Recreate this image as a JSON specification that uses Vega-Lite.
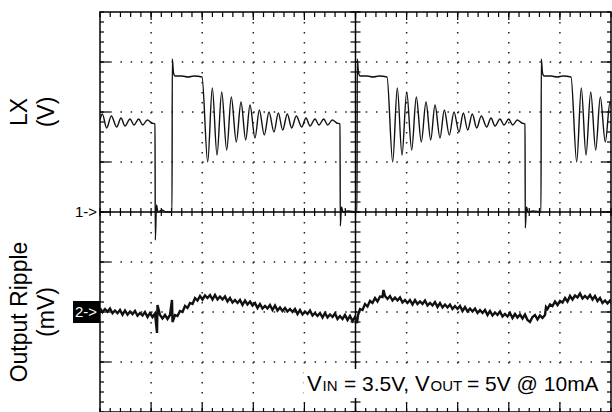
{
"$schema": "https://vega.github.io/schema/vega-lite/v6.json",
"width": 511,
"height": 400,
"autosize": {"type": "none"},
"padding": {"left": 100, "top": 12, "right": 1, "bottom": 0},
"background": "white",
"config": {"view": {"stroke": "black", "strokeWidth": 1.5}, "axis": {"disable": true}},
"datasets": {
"xgrid": [{"t":51.1},{"t":102.2},{"t":153.3},{"t":204.4},{"t":306.6},{"t":357.7},{"t":408.8},{"t":459.9}],
"xmaj": [{"t":51.1},{"t":102.2},{"t":153.3},{"t":204.4},{"t":255.5},{"t":306.6},{"t":357.7},{"t":408.8},{"t":459.9}],
"xminor": [{"t":0},{"t":10.22},{"t":20.44},{"t":30.66},{"t":40.88},{"t":51.1},{"t":61.32},{"t":71.54},{"t":81.76},{"t":91.98},{"t":102.2},{"t":112.42},{"t":122.64},{"t":132.86},{"t":143.08},{"t":153.3},{"t":163.52},{"t":173.74},{"t":183.96},{"t":194.18},{"t":204.4},{"t":214.62},{"t":224.84},{"t":235.06},{"t":245.28},{"t":255.5},{"t":265.72},{"t":275.94},{"t":286.16},{"t":296.38},{"t":306.6},{"t":316.82},{"t":327.04},{"t":337.26},{"t":347.48},{"t":357.7},{"t":367.92},{"t":378.14},{"t":388.36},{"t":398.58},{"t":408.8},{"t":419.02},{"t":429.24},{"t":439.46},{"t":449.68},{"t":459.9},{"t":470.12},{"t":480.34},{"t":490.56},{"t":500.78},{"t":511}],
"ygrid": [{"v":150},{"v":100},{"v":50},{"v":-50},{"v":-100},{"v":-150}],
"ymaj": [{"v":150},{"v":100},{"v":50},{"v":0},{"v":-50},{"v":-100},{"v":-150}],
"yminor": [{"v":-200},{"v":-190},{"v":-180},{"v":-170},{"v":-160},{"v":-150},{"v":-140},{"v":-130},{"v":-120},{"v":-110},{"v":-100},{"v":-90},{"v":-80},{"v":-70},{"v":-60},{"v":-50},{"v":-40},{"v":-30},{"v":-20},{"v":-10},{"v":0},{"v":10},{"v":20},{"v":30},{"v":40},{"v":50},{"v":60},{"v":70},{"v":80},{"v":90},{"v":100},{"v":110},{"v":120},{"v":130},{"v":140},{"v":150},{"v":160},{"v":170},{"v":180},{"v":190},{"v":200}],
"ch1": [
{"t":0,"v":92},{"t":2.3,"v":98},{"t":6.7,"v":84},{"t":11.3,"v":96},{"t":16.7,"v":85},{"t":21,"v":94},{"t":25,"v":86},{"t":30,"v":93},{"t":34,"v":87},{"t":38.7,"v":93},{"t":42.7,"v":87},{"t":47.3,"v":92},{"t":51.7,"v":89},{"t":55,"v":88},{"t":55.3,"v":-28},{"t":56.5,"v":7},{"t":58,"v":0},{"t":62,"v":2},{"t":66,"v":0},{"t":72,"v":0},
{"t":72.3,"v":153},{"t":73.5,"v":139},{"t":75,"v":136},{"t":82,"v":136},{"t":88,"v":135},{"t":94,"v":136},{"t":102,"v":135},
{"t":107.7,"v":50},{"t":112.3,"v":124},{"t":117,"v":57},{"t":121.7,"v":120},{"t":126.7,"v":62},{"t":131.3,"v":115},{"t":136.3,"v":70},{"t":141,"v":110},{"t":145.7,"v":72},{"t":150,"v":107},{"t":155,"v":74},{"t":159.3,"v":102},{"t":164.3,"v":77},{"t":169,"v":100},{"t":174,"v":80},{"t":178.3,"v":99},{"t":182.7,"v":82},{"t":187.3,"v":98},{"t":191.7,"v":84},{"t":196.3,"v":96},{"t":201.7,"v":85},{"t":206,"v":94},{"t":210,"v":86},{"t":215,"v":93},{"t":219,"v":87},{"t":223.7,"v":93},{"t":227.7,"v":87},{"t":232.3,"v":92},{"t":236.7,"v":89},{"t":240,"v":88},
{"t":240.3,"v":-14},{"t":241.5,"v":5},{"t":243,"v":0},{"t":248,"v":1},{"t":257,"v":0},
{"t":257.3,"v":153},{"t":258.5,"v":139},{"t":260,"v":136},{"t":267,"v":136},{"t":273,"v":135},{"t":279,"v":136},{"t":287,"v":135},
{"t":292.7,"v":50},{"t":297.3,"v":124},{"t":302,"v":57},{"t":306.7,"v":120},{"t":311.7,"v":62},{"t":316.3,"v":115},{"t":321.3,"v":70},{"t":326,"v":110},{"t":330.7,"v":72},{"t":335,"v":107},{"t":340,"v":74},{"t":344.3,"v":102},{"t":349.3,"v":77},{"t":354,"v":100},{"t":359,"v":80},{"t":363.3,"v":99},{"t":367.7,"v":82},{"t":372.3,"v":98},{"t":376.7,"v":84},{"t":381.3,"v":96},{"t":386.7,"v":85},{"t":391,"v":94},{"t":395,"v":86},{"t":400,"v":93},{"t":404,"v":87},{"t":408.7,"v":93},{"t":412.7,"v":87},{"t":417.3,"v":92},{"t":421.7,"v":89},{"t":425,"v":88},
{"t":425.3,"v":-16},{"t":426.5,"v":5},{"t":428,"v":0},{"t":433,"v":1},{"t":441,"v":0},
{"t":441.3,"v":153},{"t":442.5,"v":139},{"t":444,"v":136},{"t":451,"v":136},{"t":457,"v":135},{"t":463,"v":136},{"t":471,"v":135},
{"t":476.7,"v":50},{"t":481.3,"v":124},{"t":486,"v":57},{"t":490.7,"v":120},{"t":495.7,"v":62},{"t":500.3,"v":115},{"t":505.3,"v":70},{"t":510,"v":110},{"t":514.7,"v":72}
],
"ch2": [
{"t":0,"v":-96},{"t":2.5,"v":-100.2},{"t":5,"v":-97},{"t":7.5,"v":-99.7},{"t":10,"v":-96.5},{"t":12.5,"v":-101.2},{"t":15,"v":-98.5},{"t":17.5,"v":-101.2},{"t":20,"v":-98},{"t":22.5,"v":-102.7},{"t":25,"v":-98.5},{"t":27.5,"v":-102.7},{"t":30,"v":-99.5},{"t":32.5,"v":-102.2},{"t":35,"v":-99},{"t":37.5,"v":-103.7},{"t":40,"v":-101},{"t":42.5,"v":-103.5},{"t":45,"v":-100},{"t":47.5,"v":-105},{"t":50,"v":-101},{"t":52.5,"v":-105},{"t":55,"v":-101.5},{"t":57,"v":-121},{"t":57.5,"v":-93},{"t":60,"v":-103},{"t":62.5,"v":-106.5},{"t":65,"v":-103},{"t":67.5,"v":-107},{"t":70,"v":-103},{"t":72,"v":-88},{"t":72.5,"v":-110},{"t":75,"v":-103},{"t":77.5,"v":-104},{"t":80,"v":-99},{"t":82.5,"v":-100},{"t":85,"v":-94},{"t":87.5,"v":-96},{"t":90,"v":-91},{"t":92.5,"v":-92},{"t":95,"v":-86},{"t":97.5,"v":-88.5},{"t":100,"v":-84},{"t":102.5,"v":-87.5},{"t":105,"v":-83.5},{"t":107.5,"v":-86},{"t":110,"v":-83},{"t":112.5,"v":-87.5},{"t":115,"v":-83},{"t":117.5,"v":-87.5},{"t":120,"v":-84.5},{"t":122.5,"v":-87.5},{"t":125,"v":-84.5},{"t":127.5,"v":-89.5},{"t":130,"v":-86},{"t":132.5,"v":-90.5},{"t":135,"v":-88},{"t":137.5,"v":-91},{"t":140,"v":-88},{"t":142.5,"v":-93},{"t":145,"v":-88.5},{"t":147.5,"v":-92.5},{"t":150,"v":-89.5},{"t":152.5,"v":-93.5},{"t":155,"v":-91},{"t":157.5,"v":-96},{"t":160,"v":-92},{"t":162.5,"v":-96.5},{"t":165,"v":-94},{"t":167.5,"v":-96.5},{"t":170,"v":-93},{"t":172.5,"v":-98},{"t":175,"v":-93.5},{"t":177.5,"v":-98.5},{"t":180,"v":-95.5},{"t":182.5,"v":-99},{"t":185,"v":-96},{"t":187.5,"v":-99.5},{"t":190,"v":-97},{"t":192.5,"v":-100},{"t":195,"v":-97},{"t":197.5,"v":-102},{"t":200,"v":-98},{"t":202.5,"v":-102.5},{"t":205,"v":-99.5},{"t":207.5,"v":-102},{"t":210,"v":-98.5},{"t":212.5,"v":-103.5},{"t":215,"v":-101},{"t":217.5,"v":-104},{"t":220,"v":-101},{"t":222.5,"v":-105.5},{"t":225,"v":-101},{"t":227.5,"v":-105.5},{"t":230,"v":-102.5},{"t":232.5,"v":-105},{"t":235,"v":-101.5},{"t":237.5,"v":-107},{"t":240,"v":-104},{"t":242.5,"v":-107},{"t":245,"v":-103},{"t":247.5,"v":-108},{"t":250,"v":-104},{"t":252.5,"v":-109},{"t":255,"v":-105},{"t":257,"v":-111},{"t":258,"v":-103},{"t":260,"v":-97},{"t":262.5,"v":-98},{"t":265,"v":-92},{"t":267.5,"v":-94.5},{"t":270,"v":-89},{"t":272.5,"v":-91},{"t":275,"v":-86},{"t":277.5,"v":-89.5},{"t":280,"v":-84.5},{"t":282.5,"v":-85},{"t":283.5,"v":-78},{"t":285,"v":-84},{"t":287.5,"v":-87},{"t":290,"v":-84},{"t":292.5,"v":-88.5},{"t":295,"v":-85.5},{"t":297.5,"v":-88.5},{"t":300,"v":-85.5},{"t":302.5,"v":-90.5},{"t":305,"v":-88},{"t":307.5,"v":-91},{"t":310,"v":-88},{"t":312.5,"v":-92.5},{"t":315,"v":-88},{"t":317.5,"v":-92},{"t":320,"v":-89.5},{"t":322.5,"v":-92},{"t":325,"v":-88.5},{"t":327.5,"v":-93.5},{"t":330,"v":-91},{"t":332.5,"v":-93.5},{"t":335,"v":-90},{"t":337.5,"v":-95},{"t":340,"v":-91},{"t":342.5,"v":-95.5},{"t":345,"v":-92.5},{"t":347.5,"v":-95.5},{"t":350,"v":-92.5},{"t":352.5,"v":-97},{"t":355,"v":-94},{"t":357.5,"v":-97},{"t":360,"v":-94},{"t":362.5,"v":-99},{"t":365,"v":-95},{"t":367.5,"v":-99.5},{"t":370,"v":-96.5},{"t":372.5,"v":-99.5},{"t":375,"v":-96.5},{"t":377.5,"v":-101},{"t":380,"v":-98},{"t":382.5,"v":-101},{"t":385,"v":-98},{"t":387.5,"v":-103},{"t":390,"v":-99},{"t":392.5,"v":-103.5},{"t":395,"v":-100.5},{"t":397.5,"v":-103},{"t":400,"v":-99.5},{"t":402.5,"v":-104.5},{"t":405,"v":-102},{"t":407.5,"v":-104.5},{"t":410,"v":-101},{"t":412.5,"v":-106},{"t":415,"v":-102},{"t":417.5,"v":-105.5},{"t":420,"v":-102.5},{"t":422.5,"v":-106.5},{"t":425,"v":-102.5},{"t":427.5,"v":-108},{"t":430,"v":-110},{"t":432.5,"v":-105},{"t":435,"v":-103},{"t":437.5,"v":-107.5},{"t":440,"v":-103.5},{"t":442.5,"v":-106},{"t":445,"v":-103},{"t":446,"v":-95},{"t":447.5,"v":-97},{"t":450,"v":-92.5},{"t":452.5,"v":-94},{"t":455,"v":-89.5},{"t":457.5,"v":-93},{"t":460,"v":-89},{"t":462.5,"v":-90.5},{"t":465,"v":-86},{"t":467.5,"v":-89.5},{"t":470,"v":-84},{"t":472.5,"v":-87.5},{"t":475,"v":-83.5},{"t":477.5,"v":-85.5},{"t":480,"v":-81.5},{"t":482.5,"v":-86.5},{"t":485,"v":-84},{"t":487.5,"v":-86.5},{"t":490,"v":-83},{"t":492.5,"v":-87.5},{"t":495,"v":-84},{"t":497.5,"v":-89},{"t":500,"v":-86},{"t":502.5,"v":-91},{"t":505,"v":-88.5},{"t":507.5,"v":-91.5},{"t":510,"v":-88.5},{"t":512.5,"v":-93}
]
},
"layer": [
{"data": {"name": "xgrid"}, "mark": {"type": "rule", "strokeDash": [1.5, 8.5], "strokeWidth": 1.5, "color": "#222"},
 "encoding": {"x": {"field": "t", "type": "quantitative", "scale": {"domain": [0, 511], "nice": false, "zero": false}}, "y": {"datum": 200, "scale": {"domain": [-200, 200], "nice": false, "zero": false}}, "y2": {"datum": -200}}},
{"data": {"name": "ygrid"}, "mark": {"type": "rule", "strokeDash": [1.5, 8.72], "strokeWidth": 1.5, "color": "#222"},
 "encoding": {"y": {"field": "v", "type": "quantitative"}, "x": {"datum": 0}, "x2": {"datum": 511}}},
{"data": {"name": "xminor"}, "mark": {"type": "rule", "strokeWidth": 1.2, "color": "black"},
 "encoding": {"x": {"field": "t", "type": "quantitative"}, "y": {"datum": 200}, "y2": {"datum": 195}}},
{"data": {"name": "xmaj"}, "mark": {"type": "rule", "strokeWidth": 1.2, "color": "black"},
 "encoding": {"x": {"field": "t", "type": "quantitative"}, "y": {"datum": 200}, "y2": {"datum": 192}}},
{"data": {"name": "xminor"}, "mark": {"type": "rule", "strokeWidth": 1.2, "color": "black"},
 "encoding": {"x": {"field": "t", "type": "quantitative"}, "y": {"datum": -200}, "y2": {"datum": -196}}},
{"data": {"name": "xmaj"}, "mark": {"type": "rule", "strokeWidth": 1.2, "color": "black"},
 "encoding": {"x": {"field": "t", "type": "quantitative"}, "y": {"datum": -200}, "y2": {"datum": -191}}},
{"data": {"name": "xminor"}, "mark": {"type": "rule", "strokeWidth": 1.2, "color": "black"},
 "encoding": {"x": {"field": "t", "type": "quantitative"}, "y": {"datum": 4}, "y2": {"datum": -4}}},
{"data": {"name": "yminor"}, "mark": {"type": "rule", "strokeWidth": 1.2, "color": "black"},
 "encoding": {"y": {"field": "v", "type": "quantitative"}, "x": {"datum": 0}, "x2": {"datum": 4}}},
{"data": {"name": "ymaj"}, "mark": {"type": "rule", "strokeWidth": 1.2, "color": "black"},
 "encoding": {"y": {"field": "v", "type": "quantitative"}, "x": {"datum": 0}, "x2": {"datum": 10}}},
{"data": {"name": "yminor"}, "mark": {"type": "rule", "strokeWidth": 1.2, "color": "black"},
 "encoding": {"y": {"field": "v", "type": "quantitative"}, "x": {"datum": 511}, "x2": {"datum": 507}}},
{"data": {"name": "ymaj"}, "mark": {"type": "rule", "strokeWidth": 1.2, "color": "black"},
 "encoding": {"y": {"field": "v", "type": "quantitative"}, "x": {"datum": 511}, "x2": {"datum": 502}}},
{"data": {"name": "yminor"}, "mark": {"type": "rule", "strokeWidth": 1.2, "color": "black"},
 "encoding": {"y": {"field": "v", "type": "quantitative"}, "x": {"datum": 250.5}, "x2": {"datum": 260.5}}},
{"data": {"values": [{}]}, "mark": {"type": "rule", "strokeWidth": 1.5, "color": "black"},
 "encoding": {"y": {"datum": 0}, "x": {"datum": 0}, "x2": {"datum": 511}}},
{"data": {"values": [{}]}, "mark": {"type": "rule", "strokeWidth": 1.5, "color": "black"},
 "encoding": {"x": {"datum": 255.5}, "y": {"datum": -200}, "y2": {"datum": 200}}},
{"data": {"name": "ch1"}, "mark": {"type": "line", "strokeWidth": 1.4, "color": "#111", "clip": true, "interpolate": "monotone"},
 "encoding": {"x": {"field": "t", "type": "quantitative", "scale": {"domain": [0, 511], "nice": false, "zero": false}}, "y": {"field": "v", "type": "quantitative", "scale": {"domain": [-200, 200], "nice": false, "zero": false}}, "order": {"value": null}}},
{"data": {"name": "ch2"}, "mark": {"type": "line", "strokeWidth": 2.4, "color": "#111", "clip": true},
 "encoding": {"x": {"field": "t", "type": "quantitative"}, "y": {"field": "v", "type": "quantitative"}, "order": {"value": null}}},
{"data": {"values": [{}]}, "mark": {"type": "rect", "color": "white"},
 "encoding": {"x": {"datum": 204}, "x2": {"datum": 505}, "y": {"datum": -157}, "y2": {"datum": -186}}},
{"data": {"values": [{}]}, "mark": {"type": "text", "text": ["LX", "(V)"], "angle": 270, "font": "Liberation Sans", "fontSize": 23, "lineHeight": 27, "align": "center", "baseline": "alphabetic", "color": "black"},
 "encoding": {"x": {"datum": -73}, "y": {"datum": 100}}},
{"data": {"values": [{}]}, "mark": {"type": "text", "text": ["Output  Ripple", "(mV)"], "angle": 270, "font": "Liberation Sans", "fontSize": 23, "lineHeight": 27, "align": "center", "baseline": "alphabetic", "color": "black"},
 "encoding": {"x": {"datum": -73}, "y": {"datum": -100}}},
{"data": {"values": [{}]}, "mark": {"type": "text", "text": "1->", "font": "Liberation Sans", "fontSize": 15, "align": "right", "baseline": "middle", "color": "black"},
 "encoding": {"x": {"datum": -3}, "y": {"datum": 0}}},
{"data": {"values": [{}]}, "mark": {"type": "rect", "color": "black"},
 "encoding": {"x": {"datum": -27}, "x2": {"datum": 0}, "y": {"datum": -89}, "y2": {"datum": -111}}},
{"data": {"values": [{}]}, "mark": {"type": "text", "text": "2->", "font": "Liberation Sans", "fontSize": 15, "align": "right", "baseline": "middle", "color": "white"},
 "encoding": {"x": {"datum": -3}, "y": {"datum": -100}}},
{"data": {"values": [{}]}, "mark": {"type": "text", "text": "V", "font": "Liberation Sans", "fontSize": 22, "align": "left", "baseline": "alphabetic", "color": "black"},
 "encoding": {"x": {"datum": 207}, "y": {"datum": -179}}},
{"data": {"values": [{}]}, "mark": {"type": "text", "text": "IN", "font": "Liberation Sans", "fontSize": 15, "align": "left", "baseline": "alphabetic", "color": "black"},
 "encoding": {"x": {"datum": 222.5}, "y": {"datum": -179}}},
{"data": {"values": [{}]}, "mark": {"type": "text", "text": "= 3.5V,", "font": "Liberation Sans", "fontSize": 21, "align": "left", "baseline": "alphabetic", "color": "black"},
 "encoding": {"x": {"datum": 244}, "y": {"datum": -179}}},
{"data": {"values": [{}]}, "mark": {"type": "text", "text": "V", "font": "Liberation Sans", "fontSize": 22, "align": "left", "baseline": "alphabetic", "color": "black"},
 "encoding": {"x": {"datum": 315}, "y": {"datum": -179}}},
{"data": {"values": [{}]}, "mark": {"type": "text", "text": "OUT", "font": "Liberation Sans", "fontSize": 15, "align": "left", "baseline": "alphabetic", "color": "black"},
 "encoding": {"x": {"datum": 330.5}, "y": {"datum": -179}}},
{"data": {"values": [{}]}, "mark": {"type": "text", "text": "= 5V @ 10mA", "font": "Liberation Sans", "fontSize": 21, "align": "left", "baseline": "alphabetic", "color": "black"},
 "encoding": {"x": {"datum": 367}, "y": {"datum": -179}}}
]
}
